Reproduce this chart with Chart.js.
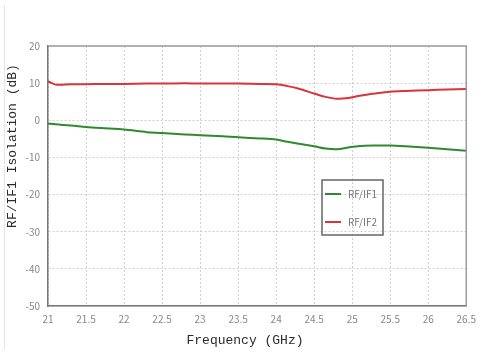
<!DOCTYPE html>
<html>
<head>
<meta charset="utf-8">
<script src="https://cdn.jsdelivr.net/npm/chart.js@4/dist/chart.umd.min.js"></script>
<style>
  html, body { margin: 0; padding: 0; background: #fff; }
  #wrap { width: 483px; height: 355px; position: relative; }
</style>
</head>
<body>
<div id="wrap"><canvas id="c" width="483" height="355"></canvas></div>
<script>
// Frequency sweep (GHz)
const freqGHz = [21.0, 21.1, 21.3, 21.5, 21.7, 22.0, 22.3, 22.5, 22.8, 23.0, 23.3, 23.5, 23.8, 24.0,
                 24.15, 24.3, 24.5, 24.65, 24.8, 24.95, 25.1, 25.3, 25.5, 25.7, 26.0, 26.25, 26.5];
// Isolation (dB)
const isoRfIf1 = [-0.9, -1.1, -1.4, -1.8, -2.1, -2.5, -3.2, -3.4, -3.8, -4.0, -4.3, -4.6, -4.9, -5.2,
                  -5.8, -6.3, -7.0, -7.6, -7.8, -7.3, -6.9, -6.8, -6.8, -7.0, -7.4, -7.8, -8.2];
const isoRfIf2 = [10.5, 9.6, 9.7, 9.7, 9.8, 9.8, 9.9, 9.9, 9.95, 9.9, 9.9, 9.9, 9.8, 9.7,
                  9.2, 8.5, 7.2, 6.3, 5.8, 6.0, 6.6, 7.2, 7.7, 7.9, 8.1, 8.3, 8.4];
const seriesNames = ['RF/IF1', 'RF/IF2'];
const xTitle = 'Frequency (GHz)';
const yTitle = 'RF/IF1 Isolation (dB)';

const GREEN = '#2f8a2f';
const RED = '#d9333b';
const TICK_FONT = '"Noto Sans CJK SC", "Liberation Sans", sans-serif';
const TITLE_FONT = '13px "Liberation Mono", "Noto Sans CJK SC", monospace';

const toPoints = (vals) => vals.map((v, i) => ({ x: freqGHz[i], y: v }));

// Outer frame, top/right plot edges, axis titles and the boxed legend
const decorations = {
  id: 'decorations',
  beforeDraw(chart) {
    const ctx = chart.ctx;
    ctx.save();
    ctx.strokeStyle = '#e6e6e6';
    ctx.lineWidth = 1;
    ctx.beginPath();
    ctx.moveTo(4.5, 5);
    ctx.lineTo(4.5, 350);
    ctx.stroke();
    ctx.restore();
  },
  afterDraw(chart) {
    const ctx = chart.ctx;
    const a = chart.chartArea;
    ctx.save();
    ctx.strokeStyle = '#9a9a9a';
    ctx.lineWidth = 1.5;
    ctx.beginPath();
    ctx.moveTo(a.left, a.top);
    ctx.lineTo(a.right, a.top);
    ctx.lineTo(a.right, a.bottom);
    ctx.stroke();

    // axis titles
    ctx.fillStyle = '#2a2a2a';
    ctx.font = TITLE_FONT;
    ctx.textAlign = 'center';
    ctx.textBaseline = 'middle';
    ctx.fillText(xTitle, 245, 341);
    ctx.save();
    ctx.translate(13, 146);
    ctx.rotate(-Math.PI / 2);
    ctx.fillText(yTitle, 0, 0);
    ctx.restore();

    // legend box
    const bx = 322, by = 180, bw = 61, bh = 55;
    ctx.strokeStyle = '#666';
    ctx.lineWidth = 1.5;
    ctx.strokeRect(bx, by, bw, bh);
    ctx.font = '10px ' + TICK_FONT;
    ctx.textBaseline = 'middle';
    ctx.textAlign = 'left';
    chart.data.datasets.forEach((ds, i) => {
      const y = by + 14 + i * 28;
      ctx.strokeStyle = ds.borderColor;
      ctx.lineWidth = 2;
      ctx.beginPath();
      ctx.moveTo(bx + 3, y);
      ctx.lineTo(bx + 19, y);
      ctx.stroke();
      ctx.fillStyle = '#777';
      ctx.fillText(ds.label, bx + 26, y);
    });
    ctx.restore();
  }
};

new Chart(document.getElementById('c'), {
  type: 'line',
  data: {
    datasets: [
      { label: seriesNames[0], data: toPoints(isoRfIf1), borderColor: GREEN, borderWidth: 2,
        pointRadius: 0, tension: 0.3 },
      { label: seriesNames[1], data: toPoints(isoRfIf2), borderColor: RED, borderWidth: 2,
        pointRadius: 0, tension: 0.3 }
    ]
  },
  options: {
    responsive: false,
    animation: false,
    layout: { padding: { top: 46, right: 11, left: 0, bottom: 0 } },
    plugins: { legend: { display: false }, tooltip: { enabled: false } },
    scales: {
      x: {
        type: 'linear', min: 21, max: 26.5,
        afterFit: (s) => { s.height = 49; },
        ticks: { stepSize: 0.5, padding: 7, color: '#888',
                 callback: (v) => String(v),
                 font: { size: 10, family: TICK_FONT } },
        grid: { color: '#cfcfcf', lineWidth: 1, drawTicks: false },
        border: { color: '#777', width: 1.5, dash: [2, 2] }
      },
      y: {
        min: -50, max: 20,
        afterFit: (s) => { s.width = 48; },
        ticks: { stepSize: 10, padding: 8, color: '#888',
                 font: { size: 10, family: TICK_FONT } },
        grid: { color: '#cfcfcf', lineWidth: 1, drawTicks: false },
        border: { color: '#777', width: 1.5, dash: [2, 2] }
      }
    }
  },
  plugins: [decorations]
});
</script>
</body>
</html>
